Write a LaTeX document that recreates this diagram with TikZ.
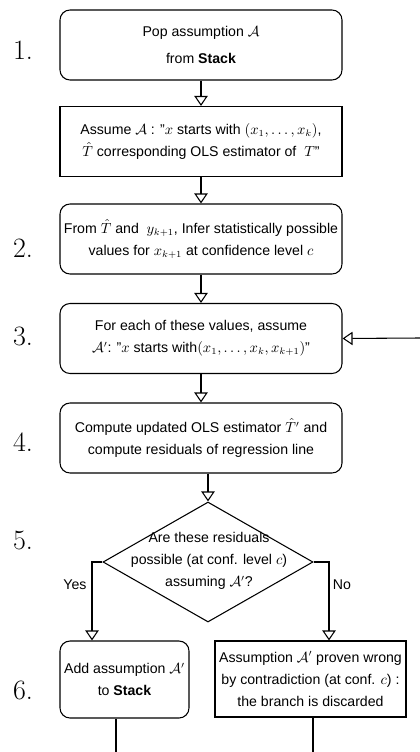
\documentclass[tikz,border=0pt]{standalone}
\usepackage{fontspec}
\setsansfont{Liberation Sans}
\usetikzlibrary{arrows.meta,shapes.geometric}
\tikzset{
    boxfont/.style={font=\sffamily\fontsize{10.6}{16.5}\selectfont},
    rbox/.style={draw, rounded corners=7.5pt, line width=0.8pt, align=center, inner sep=1pt,
        minimum width=211.5pt, minimum height=52.5pt, boxfont},
    sbox/.style={rbox, rounded corners=0pt},
    flow/.style={line width=0.8pt, -{Triangle[open, length=7.5pt, width=10pt]}},
    stepnum/.style={font=\fontsize{21}{22}\selectfont}
}
\begin{document}
\begin{tikzpicture}[x=0.75pt, y=-0.75pt]
    \useasboundingbox (0,0) rectangle (420,752);
    \node[rbox] (pop) at (201,45) {Pop assumption $\mathcal{A}$\\[4pt] from \textbf{Stack}};
    \node[sbox] (assume) at (201,141.5) {Assume $\mathcal{A}$ : "$x$ starts with $(x_1,\ldots,x_k)$,\\ $\hat{T}$ corresponding OLS estimator of\ \ $T$"};
    \node[rbox] (infer) at (201,239) {From $\hat{T}$ and\ \ $y_{k+1}$, Infer statistically possible\\ values for $x_{k+1}$ at confidence level $c$};
    \node[rbox] (each) at (201,338.5) {For each of these values, assume\\ $\mathcal{A}'$: "$x$ starts with$\bigl(x_1,\ldots,x_k,x_{k+1}\bigr)$"};
    \node[rbox] (update) at (201,438) {Compute updated OLS estimator $\hat{T}'$ and\\ compute residuals of regression line};
    \node[diamond, draw, line width=0.8pt, inner sep=0pt, minimum width=157.5pt, minimum height=90pt] (check) at (208,562) {};
    \node[align=center, boxfont] (question) at (209,561) {Are these residuals\\ possible (at conf. level $c$)\\ assuming $\mathcal{A}'$?};
    \node[rbox, minimum width=96.75pt, minimum height=57.75pt] (push) at (124.5,679.5) {Add assumption $\mathcal{A}'$\\ to \textbf{Stack}};
    \node[sbox, minimum width=143.25pt, minimum height=57pt] (drop) at (310.5,679) {Assumption $\mathcal{A}'$ proven wrong\\ by contradiction (at conf. $c$) :\\ the branch is discarded};

    % step numbers
    \node[stepnum] (n1) at (23,50) {1.};
    \node[stepnum] (n2) at (23,248) {2.};
    \node[stepnum] (n3) at (23,336) {3.};
    \node[stepnum] (n4) at (23,442) {4.};
    \node[stepnum] (n5) at (23,540) {5.};
    \node[stepnum] (n6) at (23,690) {6.};

    \coordinate (loop) at (420,338);
    \coordinate (yes) at (92,562);
    \coordinate (no) at (329,562);
    \coordinate (outa) at (116,752);
    \coordinate (outb) at (313,752);

    \path[flow] (pop) edge (assume);
    \path[flow] (assume) edge (infer);
    \path[flow] (infer) edge (each);
    \path[flow] (each) edge (update);
    \path[flow] (check.north |- update.south) edge (check.north);
    \path[flow] (loop) edge (each.east);
    \draw[flow] (check.west) -| (yes |- push.north);
    \draw[flow] (check.east) -| (no |- drop.north);
    \node[boxfont] (yeslabel) at (75,585) {Yes};
    \node[boxfont] (nolabel) at (342,585) {No};
    \draw[line width=0.8pt] (push.south -| outa) -- (outa);
    \draw[line width=0.8pt] (drop.south -| outb) -- (outb);
\end{tikzpicture}
\end{document}
